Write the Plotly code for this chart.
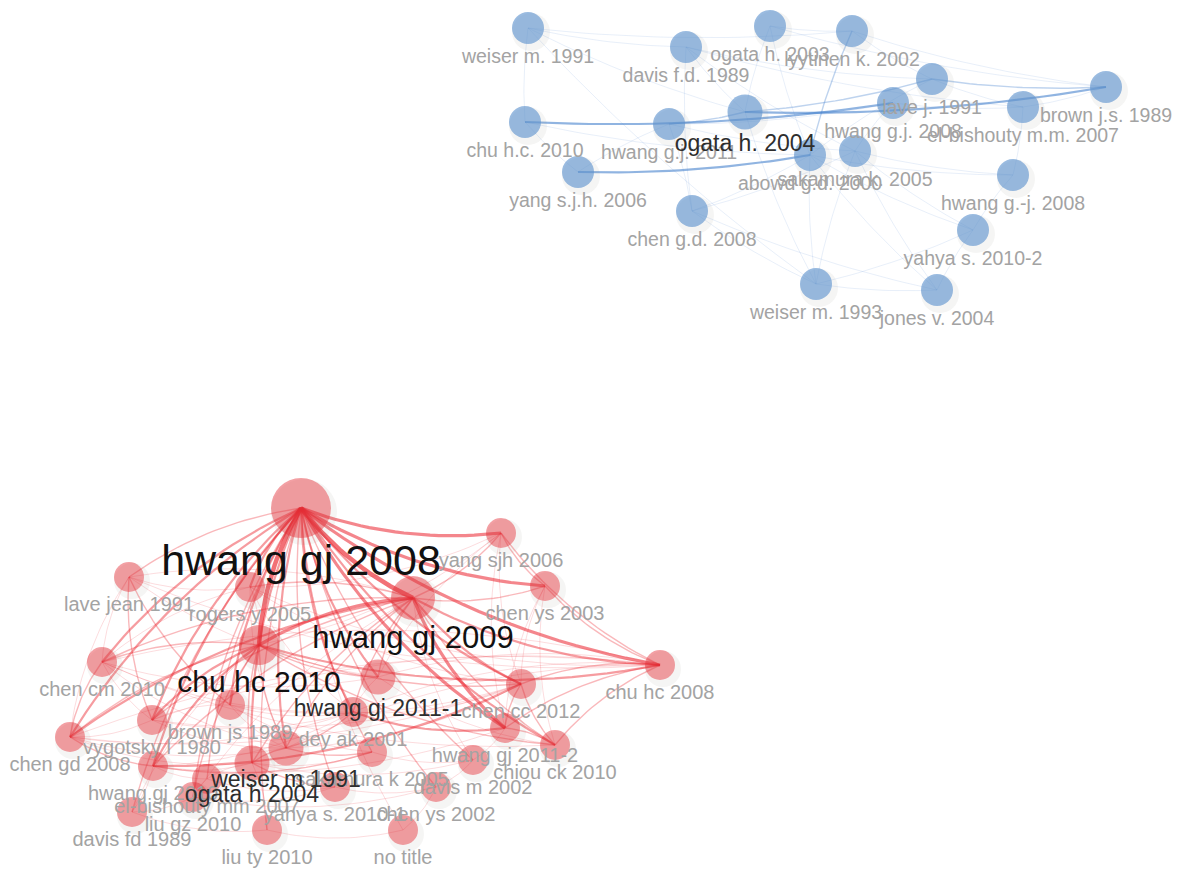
import numpy as np
import plotly.graph_objects as go

# ---------------- data ----------------
# Blue cluster (node layout coordinates, occurrence weight)
blue_names = ["weiser m. 1991", "davis f.d. 1989", "ogata h. 2003", "lyytinen k. 2002",
              "lave j. 1991", "hwang g.j. 2008", "el-bishouty m.m. 2007", "brown j.s. 1989",
              "ogata h. 2004", "hwang g.j. 2011", "chu h.c. 2010", "abowd g.d. 2000",
              "sakamura k. 2005", "yang s.j.h. 2006", "chen g.d. 2008", "hwang g.-j. 2008",
              "yahya s. 2010-2", "weiser m. 1993", "jones v. 2004"]
blue_x = [528, 686, 770, 852, 932, 893, 1023, 1106, 745, 669, 525, 810, 855, 578, 692, 1013, 973, 816, 937]
blue_y = [28, 47, 26, 31, 79, 103, 107, 87, 112, 124, 122, 155, 151, 172, 211, 175, 230, 284, 290]
blue_w = [2, 2, 2, 2, 2, 2, 2, 2, 3, 2, 2, 2, 2, 2, 2, 2, 2, 2, 2]

blue_links = [
    ("chu h.c. 2010", "hwang g.j. 2008", 3), ("ogata h. 2004", "brown j.s. 1989", 3),
    ("ogata h. 2004", "lave j. 1991", 2), ("yang s.j.h. 2006", "abowd g.d. 2000", 3),
    ("lyytinen k. 2002", "abowd g.d. 2000", 2), ("weiser m. 1991", "lyytinen k. 2002", 1),
    ("weiser m. 1991", "ogata h. 2004", 1), ("hwang g.j. 2011", "ogata h. 2004", 2),
    ("hwang g.j. 2011", "sakamura k. 2005", 1), ("ogata h. 2003", "lyytinen k. 2002", 1),
    ("davis f.d. 1989", "sakamura k. 2005", 1), ("lave j. 1991", "brown j.s. 1989", 2),
    ("lave j. 1991", "el-bishouty m.m. 2007", 1), ("el-bishouty m.m. 2007", "brown j.s. 1989", 1),
    ("hwang g.j. 2008", "el-bishouty m.m. 2007", 1), ("abowd g.d. 2000", "weiser m. 1993", 1),
    ("sakamura k. 2005", "jones v. 2004", 1), ("weiser m. 1993", "jones v. 2004", 1),
    ("chen g.d. 2008", "hwang g.j. 2011", 1), ("chen g.d. 2008", "sakamura k. 2005", 1),
    ("hwang g.-j. 2008", "yahya s. 2010-2", 1), ("yahya s. 2010-2", "jones v. 2004", 1),
    ("hwang g.-j. 2008", "el-bishouty m.m. 2007", 1), ("sakamura k. 2005", "hwang g.-j. 2008", 1),
    ("abowd g.d. 2000", "yahya s. 2010-2", 1), ("chen g.d. 2008", "weiser m. 1993", 1),
    ("weiser m. 1991", "chu h.c. 2010", 1), ("ogata h. 2003", "ogata h. 2004", 1),
    ("davis f.d. 1989", "lave j. 1991", 1), ("chen g.d. 2008", "abowd g.d. 2000", 1),
    ("weiser m. 1991", "davis f.d. 1989", 1), ("ogata h. 2003", "brown j.s. 1989", 1),
    ("lyytinen k. 2002", "brown j.s. 1989", 1), ("hwang g.j. 2011", "hwang g.j. 2008", 1),
    ("chu h.c. 2010", "yang s.j.h. 2006", 1), ("abowd g.d. 2000", "jones v. 2004", 1),
    ("ogata h. 2004", "weiser m. 1993", 1), ("sakamura k. 2005", "yahya s. 2010-2", 1),
    ("weiser m. 1991", "weiser m. 1993", 1), ("davis f.d. 1989", "chen g.d. 2008", 1),
    ("davis f.d. 1989", "el-bishouty m.m. 2007", 1), ("ogata h. 2003", "abowd g.d. 2000", 1),
    ("lyytinen k. 2002", "lave j. 1991", 1), ("chu h.c. 2010", "abowd g.d. 2000", 1),
    ("hwang g.j. 2011", "yang s.j.h. 2006", 1), ("abowd g.d. 2000", "hwang g.-j. 2008", 1),
    ("weiser m. 1993", "yahya s. 2010-2", 1), ("sakamura k. 2005", "weiser m. 1993", 1),
    ("hwang g.j. 2008", "sakamura k. 2005", 1), ("lave j. 1991", "abowd g.d. 2000", 1),
    ("davis f.d. 1989", "ogata h. 2004", 1), ("chen g.d. 2008", "jones v. 2004", 1),
]

# Red cluster
red_names = ["hwang gj 2008", "yang sjh 2006", "lave jean 1991", "rogers y 2005", "chen ys 2003",
             "hwang gj 2009", "chu hc 2010", "chen cm 2010", "chu hc 2008", "hwang gj 2011-1",
             "chen cc 2012", "brown js 1989", "dey ak 2001", "vygotsky l 1980", "chen gd 2008",
             "hwang gj 2011-2", "chiou ck 2010", "weiser m 1991", "sakamura k 2005", "davis m 2002",
             "hwang gj 2010", "ogata h 2004", "el-bishouty mm 2007", "yahya s. 2010-1", "liu gz 2010",
             "chen ys 2002", "davis fd 1989", "liu ty 2010", "no title"]
red_x = [301, 501, 129, 250, 545, 413, 259, 102, 660, 378, 521, 230, 353, 152, 70,
         505, 555, 286, 372, 473, 153, 252, 207, 335, 193, 436, 132, 267, 403]
red_y = [508, 533, 577, 587, 586, 598, 645, 662, 665, 677, 684, 705, 712, 720, 737,
         728, 745, 748, 752, 760, 766, 763, 779, 787, 797, 787, 812, 830, 830]
red_w = [10, 1, 1, 1, 1, 6, 5, 1, 1, 3, 1, 1, 1, 1, 1,
         1, 1, 3, 1, 1, 1, 3, 1, 1, 1, 1, 1, 1, 1]

red_links = [
    ("hwang gj 2008", "hwang gj 2009", 5), ("hwang gj 2008", "chu hc 2010", 5),
    ("hwang gj 2008", "yang sjh 2006", 4), ("hwang gj 2008", "chen ys 2003", 4),
    ("hwang gj 2008", "chu hc 2008", 4), ("hwang gj 2008", "chen cc 2012", 3),
    ("hwang gj 2008", "hwang gj 2011-2", 4), ("hwang gj 2008", "hwang gj 2011-1", 3),
    ("hwang gj 2008", "chen gd 2008", 3), ("hwang gj 2008", "lave jean 1991", 2),
    ("hwang gj 2008", "rogers y 2005", 3), ("hwang gj 2008", "chen cm 2010", 3),
    ("hwang gj 2008", "vygotsky l 1980", 3), ("hwang gj 2008", "brown js 1989", 3),
    ("hwang gj 2008", "dey ak 2001", 3), ("hwang gj 2008", "weiser m 1991", 3),
    ("hwang gj 2008", "ogata h 2004", 3), ("hwang gj 2008", "sakamura k 2005", 2),
    ("hwang gj 2008", "davis m 2002", 2), ("hwang gj 2008", "hwang gj 2010", 3),
    ("hwang gj 2008", "el-bishouty mm 2007", 2), ("hwang gj 2008", "liu gz 2010", 2),
    ("hwang gj 2008", "yahya s. 2010-1", 2), ("hwang gj 2008", "chen ys 2002", 2),
    ("hwang gj 2008", "davis fd 1989", 2), ("hwang gj 2008", "liu ty 2010", 2),
    ("hwang gj 2008", "chiou ck 2010", 3), ("hwang gj 2008", "no title", 1),
    ("hwang gj 2009", "chu hc 2010", 4), ("hwang gj 2009", "yang sjh 2006", 2),
    ("hwang gj 2009", "chen ys 2003", 2), ("hwang gj 2009", "chu hc 2008", 3),
    ("hwang gj 2009", "chen cc 2012", 3), ("hwang gj 2009", "hwang gj 2011-2", 4),
    ("hwang gj 2009", "chen cm 2010", 2), ("hwang gj 2009", "lave jean 1991", 1),
    ("hwang gj 2009", "chen gd 2008", 3), ("hwang gj 2009", "vygotsky l 1980", 2),
    ("hwang gj 2009", "weiser m 1991", 2), ("hwang gj 2009", "ogata h 2004", 2),
    ("hwang gj 2009", "hwang gj 2010", 2), ("hwang gj 2009", "chiou ck 2010", 2),
    ("hwang gj 2009", "davis m 2002", 1), ("hwang gj 2009", "dey ak 2001", 2),
    ("hwang gj 2009", "rogers y 2005", 2), ("hwang gj 2009", "hwang gj 2011-1", 2),
    ("hwang gj 2009", "liu gz 2010", 1),
    ("chu hc 2010", "chu hc 2008", 3), ("chu hc 2010", "chen gd 2008", 2),
    ("chu hc 2010", "vygotsky l 1980", 3), ("chu hc 2010", "hwang gj 2010", 3),
    ("chu hc 2010", "ogata h 2004", 2), ("chu hc 2010", "weiser m 1991", 2),
    ("chu hc 2010", "hwang gj 2011-1", 2), ("chu hc 2010", "chen cc 2012", 2),
    ("chu hc 2010", "chiou ck 2010", 2), ("chu hc 2010", "chen cm 2010", 2),
    ("chu hc 2010", "brown js 1989", 2), ("chu hc 2010", "davis fd 1989", 1),
    ("chu hc 2010", "liu gz 2010", 2), ("chu hc 2010", "yang sjh 2006", 1),
    ("chu hc 2010", "rogers y 2005", 1),
    ("hwang gj 2010", "chen cc 2012", 3), ("hwang gj 2010", "sakamura k 2005", 2),
    ("dey ak 2001", "hwang gj 2011-2", 3), ("chen ys 2003", "chu hc 2008", 2),
    ("yang sjh 2006", "chu hc 2008", 2), ("yang sjh 2006", "chen ys 2003", 2),
    ("chen cm 2010", "chen gd 2008", 2), ("lave jean 1991", "chen cm 2010", 1),
    ("lave jean 1991", "vygotsky l 1980", 2), ("lave jean 1991", "brown js 1989", 2),
    ("brown js 1989", "vygotsky l 1980", 1), ("chen gd 2008", "vygotsky l 1980", 1),
    ("chen gd 2008", "hwang gj 2010", 2), ("hwang gj 2010", "el-bishouty mm 2007", 1),
    ("el-bishouty mm 2007", "liu gz 2010", 1), ("davis fd 1989", "hwang gj 2010", 1),
    ("davis fd 1989", "liu gz 2010", 1), ("liu ty 2010", "ogata h 2004", 1),
    ("liu ty 2010", "no title", 1), ("no title", "chen ys 2002", 1),
    ("weiser m 1991", "dey ak 2001", 2), ("weiser m 1991", "sakamura k 2005", 2),
    ("weiser m 1991", "ogata h 2004", 2), ("ogata h 2004", "yahya s. 2010-1", 2),
    ("ogata h 2004", "el-bishouty mm 2007", 1), ("sakamura k 2005", "davis m 2002", 1),
    ("davis m 2002", "hwang gj 2011-2", 1), ("chiou ck 2010", "hwang gj 2011-2", 2),
    ("chen cc 2012", "hwang gj 2011-2", 2), ("chen cc 2012", "chiou ck 2010", 2),
    ("chu hc 2008", "chen cc 2012", 2), ("chu hc 2008", "hwang gj 2011-2", 2),
    ("chu hc 2008", "chiou ck 2010", 2), ("chu hc 2008", "weiser m 1991", 1),
    ("chu hc 2008", "chen gd 2008", 1), ("chu hc 2008", "chen cm 2010", 1),
    ("chu hc 2008", "hwang gj 2011-1", 1), ("rogers y 2005", "yang sjh 2006", 1),
    ("rogers y 2005", "chen cm 2010", 1), ("chen ys 2002", "davis m 2002", 1),
    ("yahya s. 2010-1", "chen ys 2002", 1), ("liu gz 2010", "yahya s. 2010-1", 1),
    ("chen gd 2008", "chen cc 2012", 1), ("vygotsky l 1980", "dey ak 2001", 1),
    ("lave jean 1991", "chu hc 2008", 1), ("chen cm 2010", "chiou ck 2010", 1),
    ("brown js 1989", "chen cc 2012", 1), ("rogers y 2005", "chu hc 2008", 1),
    ("hwang gj 2011-1", "chiou ck 2010", 1), ("dey ak 2001", "chen cc 2012", 1),
    ("weiser m 1991", "chen cc 2012", 1), ("chen ys 2003", "chen cc 2012", 1),
    ("yang sjh 2006", "chen cc 2012", 1), ("chen gd 2008", "ogata h 2004", 1),
    ("vygotsky l 1980", "weiser m 1991", 1), ("brown js 1989", "dey ak 2001", 1),
    ("lave jean 1991", "rogers y 2005", 1), ("chen cm 2010", "vygotsky l 1980", 1),
    ("hwang gj 2010", "ogata h 2004", 1), ("hwang gj 2011-1", "dey ak 2001", 1),
    ("chen ys 2003", "hwang gj 2011-2", 1), ("yang sjh 2006", "hwang gj 2011-2", 1),
    ("lave jean 1991", "hwang gj 2011-1", 1), ("chen cm 2010", "hwang gj 2011-1", 1),
    ("chen cm 2010", "dey ak 2001", 1), ("chen cm 2010", "weiser m 1991", 1),
    ("chen gd 2008", "weiser m 1991", 1), ("chen gd 2008", "dey ak 2001", 1),
    ("rogers y 2005", "dey ak 2001", 1), ("rogers y 2005", "weiser m 1991", 1),
    ("rogers y 2005", "chen cc 2012", 1), ("brown js 1989", "weiser m 1991", 1),
    ("brown js 1989", "sakamura k 2005", 1), ("vygotsky l 1980", "chen cc 2012", 1),
    ("hwang gj 2010", "hwang gj 2011-2", 1), ("hwang gj 2010", "dey ak 2001", 1),
    ("ogata h 2004", "sakamura k 2005", 1), ("ogata h 2004", "davis m 2002", 1),
    ("liu gz 2010", "chen ys 2002", 1), ("el-bishouty mm 2007", "yahya s. 2010-1", 1),
    ("davis fd 1989", "liu ty 2010", 1), ("chen ys 2003", "chiou ck 2010", 1),
    ("yang sjh 2006", "hwang gj 2011-1", 1), ("lave jean 1991", "chen gd 2008", 1),
    ("chu hc 2008", "dey ak 2001", 1), ("chu hc 2008", "vygotsky l 1980", 1),
]

# ---------------- styles ----------------
RADIUS = {1: 15, 2: 16, 3: 17.5, 5: 20, 6: 22, 10: 30}
FONT = {1: 20, 2: 19.5, 3: 23, 5: 30, 6: 31, 10: 43}
LINE_W = {1: 0.8, 2: 1.4, 3: 2.2, 4: 3.2, 5: 4.5}
RED_A = {1: 0.2, 2: 0.32, 3: 0.45, 4: 0.55, 5: 0.65}
BLUE_A = {1: 0.16, 2: 0.35, 3: 0.6}
OFF = 8  # page body margin compensation


def label_color(w):
    if w >= 5:
        return "#111111"
    if w >= 3:
        return "#2e2e2e"
    return "#a3a3a3"


def curve(x0, y0, x1, y1, bend=0.12, n=24):
    dx, dy = x1 - x0, y1 - y0
    mx, my = (x0 + x1) / 2, (y0 + y1) / 2
    cx, cy = mx - dy * bend, my + dx * bend
    t = np.linspace(0, 1, n)
    xs = (1 - t) ** 2 * x0 + 2 * (1 - t) * t * cx + t ** 2 * x1
    ys = (1 - t) ** 2 * y0 + 2 * (1 - t) * t * cy + t ** 2 * y1
    return list(xs), list(ys)


def edge_traces(names, xs, ys, links, rgb, alphas, bend):
    idx = {n: i for i, n in enumerate(names)}
    traces = []
    for w in sorted(set(l[2] for l in links)):
        ex, ey = [], []
        for a, b, lw in links:
            if lw != w:
                continue
            i, j = idx[a], idx[b]
            cx, cy = curve(xs[i], ys[i], xs[j], ys[j], bend)
            ex += cx + [None]
            ey += cy + [None]
        traces.append(go.Scatter(x=ex, y=ey, mode="lines", hoverinfo="skip",
                                 line=dict(color=f"rgba({rgb},{alphas[w]})", width=LINE_W[w]),
                                 showlegend=False))
    return traces


fig = go.Figure()

# edges
for t in edge_traces(blue_names, blue_x, blue_y, blue_links, "70,130,205", BLUE_A, 0.05):
    fig.add_trace(t)
for t in edge_traces(red_names, red_x, red_y, red_links, "235,35,45", RED_A, 0.12):
    fig.add_trace(t)

# shadows + nodes
for xs, ys, ws, col in [(blue_x, blue_y, blue_w, "rgba(95,148,206,0.9)"),
                        (red_x, red_y, red_w, "rgba(230,50,58,0.66)")]:
    sizes = [2 * RADIUS[w] for w in ws]
    fig.add_trace(go.Scatter(x=[x + 3 for x in xs], y=[y + 4 for y in ys], mode="markers",
                             marker=dict(size=[s + 6 for s in sizes], color="rgba(120,110,100,0.10)",
                                         line=dict(width=0)),
                             hoverinfo="skip", showlegend=False))
    fig.add_trace(go.Scatter(x=xs, y=ys, mode="markers",
                             marker=dict(size=sizes, color=col, line=dict(width=0)),
                             hoverinfo="skip", showlegend=False))

# labels (small first so large ones are drawn on top)
lab = []
for names, xs, ys, ws in [(blue_names, blue_x, blue_y, blue_w), (red_names, red_x, red_y, red_w)]:
    for n, x, y, w in zip(names, xs, ys, ws):
        lab.append((w, n, x, y + RADIUS[w] + 0.55 * FONT[w] + 3))
lab.sort(key=lambda r: r[0])
fig.add_trace(go.Scatter(
    x=[r[2] for r in lab], y=[r[3] for r in lab], text=[r[1] for r in lab],
    mode="text", textposition="middle center", hoverinfo="skip", showlegend=False,
    textfont=dict(family="Liberation Sans, Arial, sans-serif",
                  size=[FONT[r[0]] for r in lab], color=[label_color(r[0]) for r in lab])))

fig.update_layout(
    width=1184 - OFF, height=872 - OFF, margin=dict(l=0, r=0, t=0, b=0),
    paper_bgcolor="white", plot_bgcolor="white",
    xaxis=dict(range=[OFF, 1184], visible=False, fixedrange=True),
    yaxis=dict(range=[872, OFF], visible=False, fixedrange=True),
)

fig.write_html("out.html", config={"displayModeBar": False})
